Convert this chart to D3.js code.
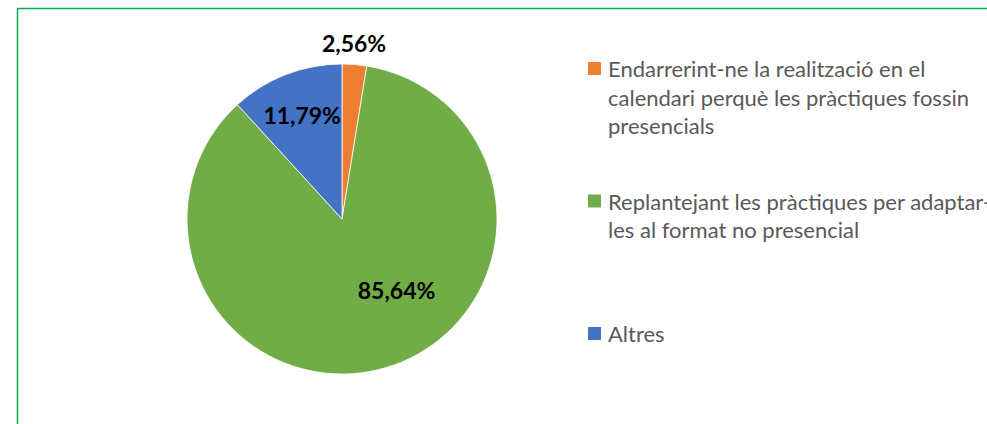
<!DOCTYPE html>
<html>
<head>
<meta charset="utf-8">
<script src="https://cdnjs.cloudflare.com/ajax/libs/d3/7.8.5/d3.min.js"></script>
<style>
  html, body { margin: 0; padding: 0; background: #fff; overflow: hidden; }
  .legendText { font-family: Lato, "Open Sans", sans-serif; font-size: 22px; fill: #595959; }
  .pieLabel { font-family: Lato, "Open Sans", sans-serif; font-size: 23px; font-weight: bold; fill: #000; }
</style>
</head>
<body>
<div id="body"></div>
<script>
var categories = [
  "Endarrerint-ne la realització en el calendari perquè les pràctiques fossin presencials",
  "Replantejant les pràctiques per adaptar-les al format no presencial",
  "Altres"
];
var values = [2.56, 85.64, 11.79];
var valueLabels = ["2,56%", "85,64%", "11,79%"];
var legendLines = [
  ["Endarrerint-ne la realització en el", "calendari perquè les pràctiques fossin", "presencials"],
  ["Replantejant les pràctiques per adaptar-", "les al format no presencial"],
  ["Altres"]
];
var colors = ["#ED7D31", "#70AD47", "#4472C4"];

var width = 987, height = 424;

var svg = d3.select("#body")
  .append("svg")
  .attr("width", width)
  .attr("height", height);

// chart border (runs off the right/bottom edges)
svg.append("rect")
  .attr("x", 17.5)
  .attr("y", 8.5)
  .attr("width", 1000)
  .attr("height", 500)
  .attr("fill", "none")
  .attr("stroke", "#00B050")
  .attr("stroke-width", 1.5);

var cx = 342, cy = 219, radius = 155;

var pie = d3.pie().sort(null).value(function(d) { return d; });
var arcs = pie(values);

var arc = d3.arc().innerRadius(0).outerRadius(radius);

var chart = svg.append("g")
  .attr("transform", "translate(" + cx + "," + cy + ")");

chart.selectAll("path")
  .data(arcs)
  .enter().append("path")
  .attr("d", arc)
  .attr("fill", function(d, i) { return colors[i]; })
  .attr("stroke", "#fff")
  .attr("stroke-width", 0.8);

// label radius (as fraction of pie radius) and small nudges, Excel "best fit"-ish
var labelRadius = [1.13, 0.6, 0.71];
var labelNudge = [[-2, 0], [28, -17], [0, 0]];

chart.selectAll("text.pieLabel")
  .data(arcs)
  .enter().append("text")
  .attr("class", "pieLabel")
  .attr("text-anchor", "middle")
  .attr("dy", "0.35em")
  .attr("x", function(d, i) {
    var a = (d.startAngle + d.endAngle) / 2;
    return Math.sin(a) * radius * labelRadius[i] + labelNudge[i][0];
  })
  .attr("y", function(d, i) {
    var a = (d.startAngle + d.endAngle) / 2;
    return -Math.cos(a) * radius * labelRadius[i] + labelNudge[i][1];
  })
  .text(function(d, i) { return valueLabels[i]; });

// legend
var legendY = d3.scalePoint()
  .domain(categories)
  .range([69, 334]);

var legend = svg.append("g")
  .attr("transform", "translate(588,0)");

var item = legend.selectAll("g")
  .data(categories)
  .enter().append("g")
  .attr("transform", function(d) { return "translate(0," + legendY(d) + ")"; });

item.append("rect")
  .attr("x", 0)
  .attr("y", -7)
  .attr("width", 13)
  .attr("height", 13)
  .attr("fill", function(d, i) { return colors[i]; });

item.each(function(d, i) {
  var t = d3.select(this).append("text")
    .attr("class", "legendText")
    .attr("x", 20)
    .attr("y", 8);
  legendLines[i].forEach(function(line, j) {
    t.append("tspan")
      .attr("x", 20)
      .attr("dy", j === 0 ? 0 : 28.5)
      .text(line);
  });
});
</script>
</body>
</html>
